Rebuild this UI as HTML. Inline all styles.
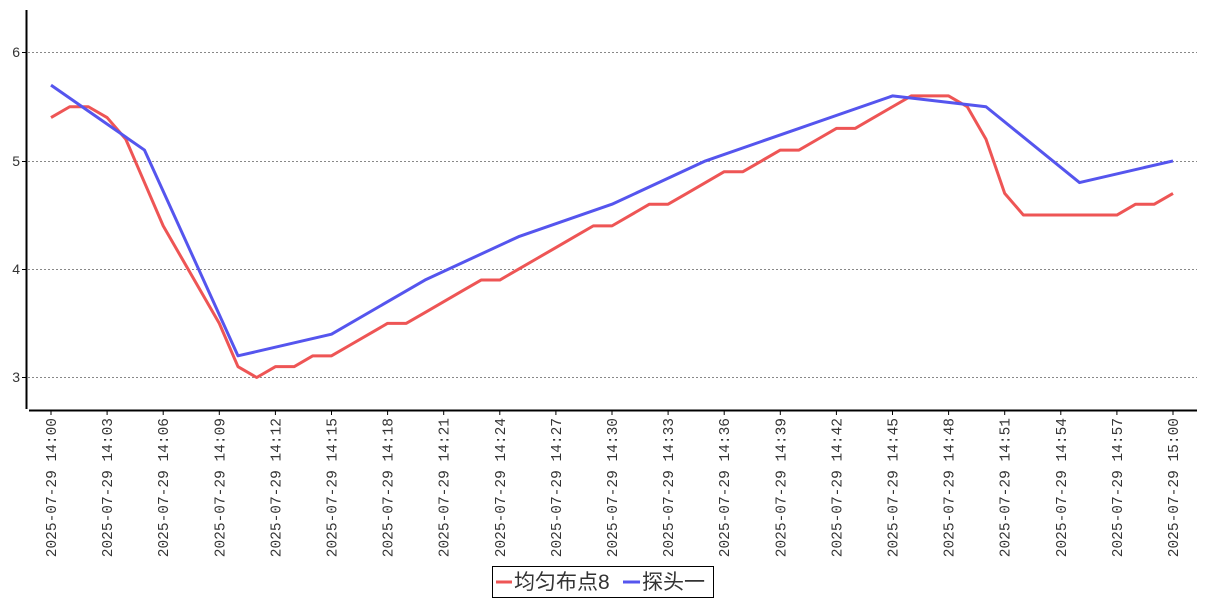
<!DOCTYPE html>
<html><head><meta charset="utf-8"><style>
html,body{margin:0;padding:0;background:#fff;width:1207px;height:600px;overflow:hidden}
</style></head><body>
<svg id="s" width="1207" height="600" xmlns="http://www.w3.org/2000/svg" font-family="Liberation Sans, sans-serif">
<g stroke="#888" stroke-dasharray="2,2" stroke-width="1">
<line x1="28" y1="52.5" x2="1197" y2="52.5"/>
<line x1="28" y1="161.5" x2="1197" y2="161.5"/>
<line x1="28" y1="269.5" x2="1197" y2="269.5"/>
<line x1="28" y1="377.5" x2="1197" y2="377.5"/>
</g>
<line x1="26.5" y1="10" x2="26.5" y2="409" stroke="#000" stroke-width="2"/>
<line x1="29" y1="410.5" x2="1197" y2="410.5" stroke="#000" stroke-width="2"/>
<g font-size="14" fill="#333" text-anchor="end">
<text x="20" y="57">6</text><text x="20" y="166">5</text><text x="20" y="274">4</text><text x="20" y="382">3</text>
</g>
<g stroke="#000" stroke-width="1">
<line x1="22" y1="52.5" x2="27" y2="52.5"/><line x1="22" y1="161.5" x2="27" y2="161.5"/>
<line x1="22" y1="269.5" x2="27" y2="269.5"/><line x1="22" y1="377.5" x2="27" y2="377.5"/>
</g>
<g id="xt"></g>
<polyline id="red" fill="none" stroke="#ee5555" stroke-width="3" stroke-linejoin="round"/>
<polyline id="blue" fill="none" stroke="#5555ee" stroke-width="3" stroke-linejoin="round"/>
<rect x="492.5" y="566.5" width="221" height="31" fill="#fff" stroke="#000"/>
<line x1="496" y1="582" x2="512" y2="582" stroke="#ee5555" stroke-width="3"/>
<text x="514" y="589" font-size="21" fill="#333" font-family="Liberation Sans, Noto Sans CJK SC, sans-serif">均匀布点8</text>
<line x1="623" y1="582" x2="640" y2="582" stroke="#5555ee" stroke-width="3"/>
<text x="642" y="589" font-size="21" fill="#333" font-family="Liberation Sans, Noto Sans CJK SC, sans-serif">探头一</text>
</svg>
<script>
var X=function(m){return 51+m*(1173-51)/60}, Y=function(v){return 377.5-(v-3)*108.3};
var r=[5.4,5.5,5.5,5.4,5.2,4.8,4.4,4.1,3.8,3.5,3.1,3.0,3.1,3.1,3.2,3.2,3.3,3.4,3.5,3.5,3.6,3.7,3.8,3.9,3.9,4.0,4.1,4.2,4.3,4.4,4.4,4.5,4.6,4.6,4.7,4.8,4.9,4.9,5.0,5.1,5.1,5.2,5.3,5.3,5.4,5.5,5.6,5.6,5.6,5.5,5.2,4.7,4.5,4.5,4.5,4.5,4.5,4.5,4.6,4.6,4.7];
document.getElementById('red').setAttribute('points',r.map(function(v,i){return X(i)+','+Y(v)}).join(' '));
var b=[[0,5.7],[5,5.1],[10,3.2],[15,3.4],[20,3.9],[25,4.3],[30,4.6],[35,5.0],[40,5.3],[45,5.6],[50,5.5],[55,4.8],[60,5.0]];
document.getElementById('blue').setAttribute('points',b.map(function(p){return X(p[0])+','+Y(p[1])}).join(' '));
var g=document.getElementById('xt'),h='';
for(var m=0;m<=60;m+=3){var x=X(m),hh=14+Math.floor(m/60),mm=m%60;
var t='2025-07-29 '+hh+':'+(mm<10?'0':'')+mm;
h+='<line x1="'+x+'" y1="411" x2="'+x+'" y2="415" stroke="#000"/>';
h+='<text transform="translate('+(x+5)+',418) rotate(-90)" text-anchor="end" font-family="Liberation Mono, monospace" font-size="14.5" fill="#333">'+t+'</text>';}
g.innerHTML=h;
</script>
</body></html>
